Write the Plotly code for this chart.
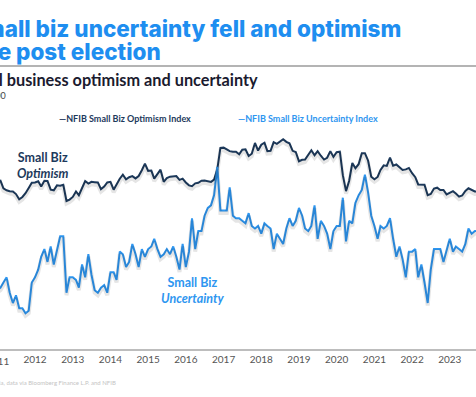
import pandas as pd
import plotly.graph_objects as go

# ---------------- data ----------------
months = pd.date_range("2011-01-01", periods=154, freq="MS")

optimism = [
    94.1, 94.5, 91.9, 91.2, 90.9, 90.8, 89.9, 88.1, 88.9, 90.2, 92.0, 93.8,   # 2011
    93.9, 94.3, 92.5, 94.5, 94.4, 91.4, 91.2, 92.9, 92.8, 93.1, 87.5, 88.0,   # 2012
    88.9, 90.8, 89.5, 92.1, 94.4, 93.5, 94.1, 94.0, 93.9, 91.6, 92.5, 93.9,   # 2013
    94.1, 91.4, 93.4, 95.2, 96.6, 95.0, 95.7, 96.1, 95.3, 96.1, 98.1, 100.4,  # 2014
    97.9, 98.0, 95.2, 96.9, 98.3, 94.1, 95.4, 95.9, 96.1, 96.1, 94.8, 95.2,   # 2015
    93.9, 92.9, 92.6, 93.6, 93.8, 94.5, 94.6, 94.4, 94.1, 94.9, 98.4, 105.8,  # 2016
    105.9, 105.3, 104.7, 104.5, 104.5, 103.6, 105.2, 105.3, 103.0, 103.8, 107.5, 104.9,  # 2017
    106.9, 107.6, 104.7, 104.8, 107.8, 107.2, 107.9, 108.8, 107.9, 107.4, 104.8, 104.4,  # 2018
    101.2, 101.7, 101.8, 103.5, 105.0, 103.3, 104.7, 103.1, 101.8, 102.4, 104.7, 102.7,  # 2019
    104.3, 104.5, 96.4, 90.9, 94.4, 100.6, 98.8, 100.2, 104.0, 104.0, 101.4, 95.9,  # 2020
    95.0, 95.8, 98.2, 99.8, 99.6, 102.5, 99.7, 100.1, 99.1, 98.2, 98.4, 98.9,  # 2021
    97.1, 95.7, 93.2, 93.2, 93.1, 89.5, 89.9, 91.8, 92.1, 91.3, 91.3, 89.8,    # 2022
    90.3, 90.9, 90.1, 89.0, 89.4, 91.0, 91.9, 91.3, 90.8, 90.7,                # 2023
]

uncertainty = [
    63, 64, 66, 68, 62, 58, 61, 56, 56, 54, 55, 66,      # 2011
    68, 71, 76, 79, 74, 80, 73, 78, 84, 84, 62, 68,      # 2012
    68, 67, 64, 73, 68, 77, 69, 63, 62, 64, 65, 62,      # 2013
    70, 70, 67, 78, 77, 72, 74, 81, 77, 72, 79, 76,      # 2014
    79, 80, 83, 79, 76, 77, 79, 77, 80, 76, 71, 81,      # 2015
    72, 78, 91, 79, 86, 86, 92, 95, 96, 100, 111, 94,    # 2016
    94, 94, 103, 92, 91, 91, 90, 89, 93, 88, 87, 88,     # 2017
    85, 89, 88, 87, 79, 85, 83, 81, 87, 91, 88, 90,      # 2018
    95, 92, 87, 86, 88, 96, 83, 90, 88, 85, 79, 86,      # 2019
    88, 88, 99, 82, 90, 89, 97, 100, 102, 108, 101, 92,  # 2020
    88, 83, 88, 87, 88, 91, 83, 76, 80, 75, 68, 78,      # 2021
    78, 79, 68, 73, 66, 58, 71, 79, 79, 79, 74, 78,      # 2022
    83, 78, 80, 79, 78, 81, 87, 85, 86, 86,              # 2023
]

tick_years = [str(y) for y in range(2012, 2024)]

# ---------------- style ----------------
W, H = 476, 397
M_T, M_B = 125, 48
PLOT_H = H - M_T - M_B
NAVY = "#1d3a5c"
BLUE = "#2e96f0"
TITLE_BLUE = "#1e8ef0"

opt_range = [36.5, 113.7]
unc_range = [40.1, 127.3]
SH = 2.5  # shadow offset in px


def shift(r, px):
    d = (r[1] - r[0]) / PLOT_H * px
    return [r[0] + d, r[1] + d]


def px(xp, yp):
    return xp / W, (H - M_B - yp) / PLOT_H


fig = go.Figure()
shadow = "rgba(0,0,0,0.10)"
fig.add_trace(go.Scatter(x=months, y=optimism, yaxis="y3", mode="lines",
                         line=dict(color=shadow, width=4), hoverinfo="skip", showlegend=False))
fig.add_trace(go.Scatter(x=months, y=uncertainty, yaxis="y4", mode="lines",
                         line=dict(color=shadow, width=4), hoverinfo="skip", showlegend=False))
fig.add_trace(go.Scatter(x=months, y=optimism, yaxis="y", mode="lines", name="NFIB Small Biz Optimism Index",
                         line=dict(color=NAVY, width=2), showlegend=False))
fig.add_trace(go.Scatter(x=months, y=uncertainty, yaxis="y2", mode="lines", name="NFIB Small Biz Uncertainty Index",
                         line=dict(color=BLUE, width=2), showlegend=False))

x_range = ["2011-01-27", "2023-09-12"]

ann = []


def add_text(text, xp, yp, size, color, anchor="left", family="Lato", yanchor="middle", weight=None):
    x, y = px(xp, yp)
    font = dict(size=size, color=color, family=family)
    if weight:
        font["weight"] = weight
    ann.append(dict(text=text, x=x, y=y, xref="paper", yref="paper", showarrow=False,
                    xanchor=anchor, yanchor=yanchor, font=font))


# title (cropped on the left in the reference)
add_text("Small biz uncertainty fell and optimism", 403, 28, 22.5, TITLE_BLUE, anchor="right", family="Inter", weight=800)
add_text("rose post election", 163, 52, 22.5, TITLE_BLUE, anchor="right", family="Inter", weight=800)
add_text("<b>Small business optimism and uncertainty</b>", 260, 80, 16.3, "#1b1b2f", anchor="right", family="Lato")
add_text("Index, 1986=100", 8, 95, 9, "#444444", anchor="right", family="Lato")

# legend
add_text("<b>—NFIB Small Biz Optimism Index</b>", 57, 118, 9, NAVY, family="Lato")
add_text("<b>—NFIB Small Biz Uncertainty Index</b>", 236, 118, 9, BLUE, family="Lato")

# series labels
add_text("<b>Small Biz</b><br><b><i>Optimism</i></b>", 15, 165, 12.5, NAVY, family="Lato")
add_text("<b>Small Biz</b><br><b><i>Uncertainty</i></b>", 159, 290, 12.5, BLUE, family="Lato")

# cropped first tick label
add_text("2011", -3, 361, 10, "#555555", anchor="center", family="Lato")

# source
add_text("Source: Media, data via Bloomberg Finance L.P. and NFIB", 118, 382, 6, "#c4c4c4", anchor="right", family="Lato")

fig.update_layout(
    width=W, height=H,
    margin=dict(l=0, r=0, t=M_T, b=M_B),
    paper_bgcolor="white", plot_bgcolor="white",
    showlegend=False,
    annotations=ann,
    shapes=[dict(type="line", xref="paper", yref="paper",
                 x0=0, x1=1, y0=px(0, 66)[1], y1=px(0, 66)[1],
                 line=dict(color="#6b6b6b", width=1.2))],
    xaxis=dict(type="date", range=x_range, showgrid=False, zeroline=False,
               showline=True, linecolor="#bdbdbd", linewidth=1.5,
               tickmode="array", tickvals=[f"{y}-01-01" for y in tick_years], ticktext=tick_years,
               ticks="", tickfont=dict(size=10, color="#555555", family="Lato")),
    yaxis=dict(range=opt_range, visible=False),
    yaxis2=dict(range=unc_range, visible=False, overlaying="y"),
    yaxis3=dict(range=shift(opt_range, SH), visible=False, overlaying="y"),
    yaxis4=dict(range=shift(unc_range, SH), visible=False, overlaying="y"),
)

fig.write_html("out.html", config={"displayModeBar": False},
               post_script="document.body.style.margin='0';document.body.style.overflow='hidden';")
